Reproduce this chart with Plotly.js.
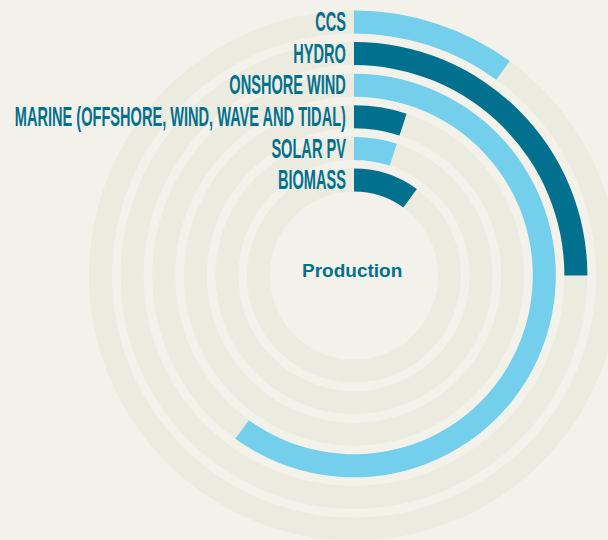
<!DOCTYPE html>
<html>
<head>
<meta charset="utf-8">
<script src="https://cdn.plot.ly/plotly-3.0.1.min.js"></script>
<style>
  html, body { margin: 0; padding: 0; width: 608px; height: 540px; overflow: hidden; background: #f3f2ea; }
  #chart { position: absolute; left: 0; top: 0; width: 708px; height: 551px; }
</style>
</head>
<body>
<div id="chart"></div>
<script>
// Data (outer ring first)
const categories = ["CCS", "HYDRO", "ONSHORE WIND", "MARINE (OFFSHORE, WIND, WAVE AND TIDAL)", "SOLAR PV", "BIOMASS"];
const values = [10, 25, 60, 5, 5, 10];           // share of full circle, %
const barColors = ["#74cfec", "#00708f", "#74cfec", "#00708f", "#74cfec", "#00708f"];
const centerLabel = "Production";

// Styling / geometry (radial axis units = px)
const BG = "#f3f2ea", TRACK = "#ecebdf", TEXT = "#00708f";
const innerR = 84, pitch = 31.6, thick = 23;
const n = categories.length;
const ringBase = categories.map((c, i) => innerR + pitch * (n - 1 - i));
const ringMid = ringBase.map(b => b + thick / 2);
const CONDENSE = 0.54;

const tracks = {
  type: "barpolar",
  r: categories.map(() => thick),
  base: ringBase,
  theta: categories.map(() => 180),
  width: categories.map(() => 360),
  marker: { color: TRACK, line: { width: 0 } },
  hoverinfo: "skip",
  showlegend: false
};

const bars = {
  type: "barpolar",
  r: categories.map(() => thick),
  base: ringBase,
  theta: values.map(v => v * 3.6 / 2),
  width: values.map(v => v * 3.6),
  marker: { color: barColors, line: { width: 0 } },
  hoverinfo: "skip",
  showlegend: false
};

const labels = {
  type: "scatterpolar",
  mode: "text",
  r: ringMid,
  theta: categories.map(() => 0),
  text: categories.map(c => c + "\u00a0\u00a0"),
  textposition: "middle left",
  textfont: { family: "Liberation Sans, Arial, sans-serif", size: 27, color: TEXT, weight: 700 },
  cliponaxis: false,
  hoverinfo: "skip",
  showlegend: false
};

const layout = {
  width: 708,
  height: 551,
  margin: { l: 0, r: 0, t: 0, b: 0, pad: 0 },
  paper_bgcolor: BG,
  plot_bgcolor: BG,
  showlegend: false,
  polar: {
    domain: { x: [0, 1], y: [0, 1] },
    bgcolor: BG,
    barmode: "overlay",
    radialaxis: { range: [0, 275.5], visible: false, showgrid: false, showline: false, showticklabels: false },
    angularaxis: { rotation: 90, direction: "clockwise", visible: false, showgrid: false, showline: false, showticklabels: false }
  },
  annotations: [{
    text: centerLabel,
    xref: "paper", yref: "paper", x: 0.5, y: 0.5,
    xanchor: "center", yanchor: "middle",
    xshift: -2, yshift: 5,
    showarrow: false,
    font: { family: "Liberation Sans, Arial, sans-serif", size: 19, color: TEXT, weight: 700 }
  }]
};

Plotly.newPlot("chart", [tracks, bars, labels], layout, { staticPlot: true, displayModeBar: false }).then(gd => {
  // condense the label glyphs horizontally (narrow display typeface look), anchored at their right end
  gd.querySelectorAll(".scatterlayer .textpoint text").forEach(t => {
    const x = parseFloat(t.getAttribute("x")) || 0;
    t.setAttribute("transform", `translate(${x},2.5) scale(${CONDENSE},1) translate(${-x},0)`);
  });
});
</script>
</body>
</html>
